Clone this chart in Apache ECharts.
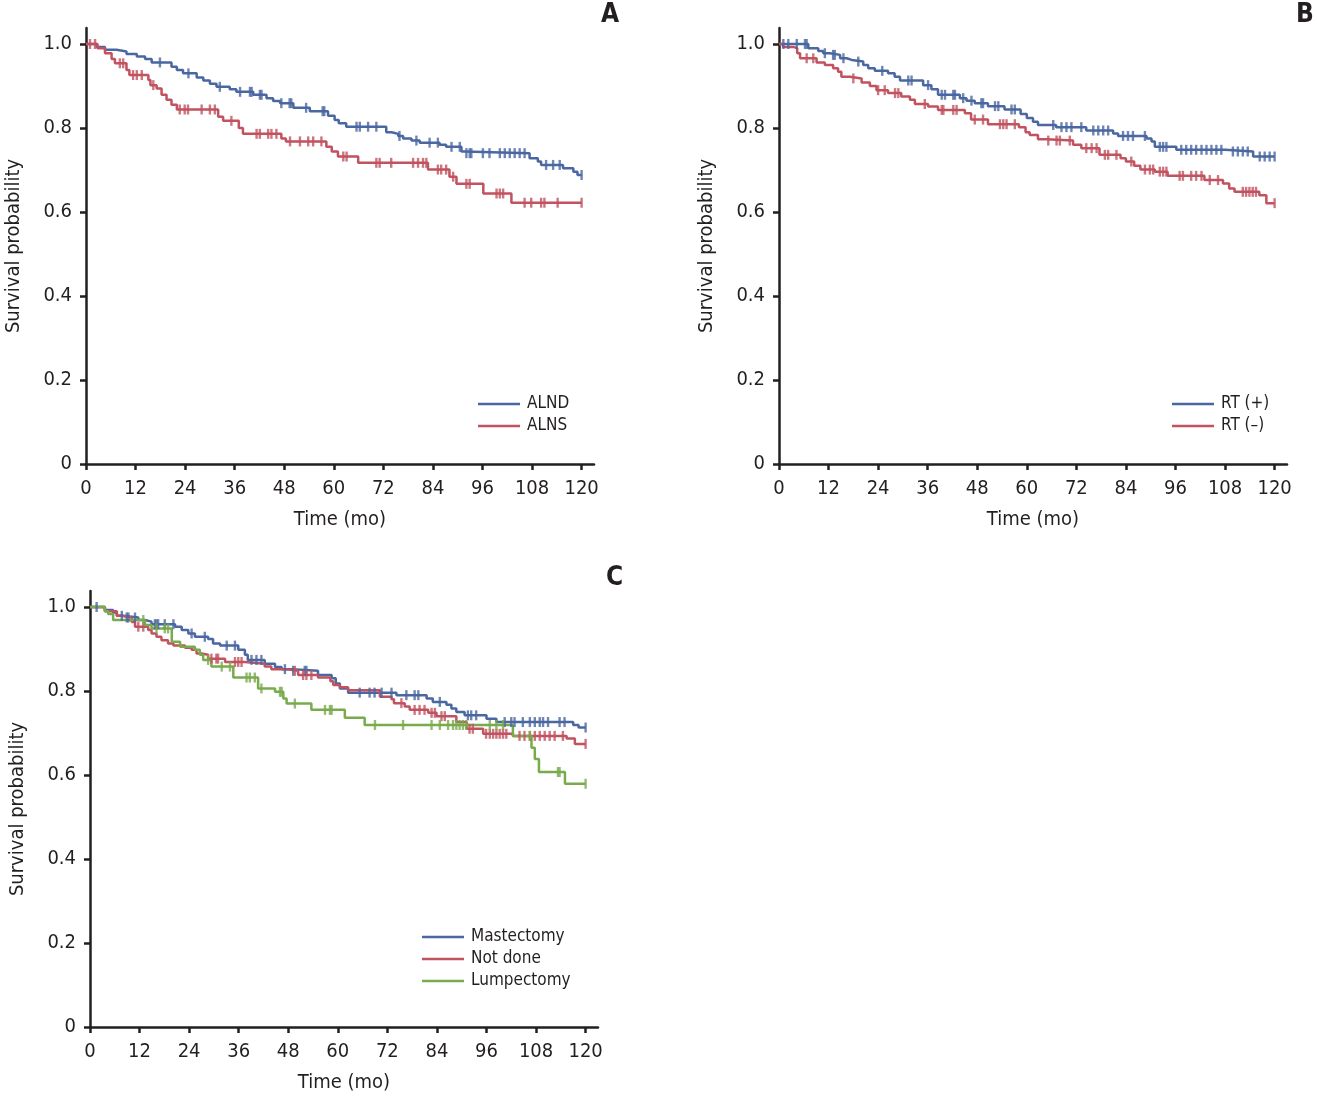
<!DOCTYPE html>
<html>
<head>
<meta charset="utf-8">
<title>Survival curves</title>
<script src="https://cdn.jsdelivr.net/npm/echarts@6/dist/echarts.min.js"></script>
<style>
  html, body { margin: 0; padding: 0; background: #fff; }
  #chart { width: 1317px; height: 1100px; }
</style>
</head>
<body>
<div id="chart"></div>
<script>
// tick labels
var xTicks = [0, 12, 24, 36, 48, 60, 72, 84, 96, 108, 120];
var yTicks = [0, 0.2, 0.4, 0.6, 0.8, 1.0];

// A: ALND
var alndTime = [2.6, 4.6, 7.4, 9.8, 12.3, 14.3, 15.9, 20.7, 22.0, 23.5, 26.8, 28.4, 30.0, 31.6, 34.8, 36.4, 40.5, 43.7, 45.3, 47.0, 50.2, 54.2, 58.6, 60.2, 61.2, 63.0, 72.7, 74.0, 75.6, 76.8, 78.8, 80.8, 85.6, 87.2, 90.9, 91.5, 107.4, 109.4, 110.2, 115.5, 118.0, 119.0];
var alndSurv = [0.993, 0.986, 0.982, 0.976, 0.970, 0.964, 0.956, 0.946, 0.938, 0.930, 0.920, 0.913, 0.905, 0.898, 0.892, 0.886, 0.879, 0.871, 0.864, 0.859, 0.848, 0.840, 0.829, 0.819, 0.811, 0.803, 0.790, 0.786, 0.781, 0.775, 0.770, 0.765, 0.760, 0.755, 0.744, 0.740, 0.728, 0.720, 0.712, 0.704, 0.696, 0.688];
var alndCensor = [17.9, 24.8, 32.4, 37.3, 39.7, 40.1, 42.1, 42.5, 47.3, 49.3, 49.7, 53.3, 57.3, 57.7, 65.5, 66.3, 68.3, 70.3, 75.9, 80.0, 83.2, 85.2, 88.5, 90.5, 92.1, 92.9, 93.3, 96.1, 97.7, 100.2, 101.4, 102.6, 103.8, 105.0, 106.2, 111.4, 113.1, 114.7, 120];

// A: ALNS
var alnsTime = [2.8, 4.6, 6.2, 7.0, 9.8, 10.5, 15.1, 15.6, 17.1, 18.3, 19.5, 20.7, 22.0, 32.0, 33.2, 37.0, 38.0, 47.3, 48.4, 58.2, 59.5, 61.0, 65.9, 82.8, 88.0, 89.7, 96.2, 103.0];
var alnsSurv = [0.990, 0.978, 0.964, 0.954, 0.938, 0.926, 0.914, 0.902, 0.894, 0.879, 0.867, 0.855, 0.844, 0.827, 0.817, 0.800, 0.786, 0.775, 0.768, 0.755, 0.744, 0.732, 0.717, 0.701, 0.684, 0.667, 0.644, 0.622];
var alnsCensor = [0.97, 2.2, 8.2, 9.0, 11.4, 12.3, 13.5, 16.3, 22.7, 23.9, 24.7, 28.0, 30.0, 31.2, 35.2, 41.3, 42.1, 44.1, 44.9, 46.1, 49.4, 51.8, 53.8, 55.0, 57.0, 62.3, 63.1, 70.3, 71.1, 73.9, 79.2, 80.4, 81.6, 82.4, 85.2, 86.0, 87.2, 88.9, 92.1, 92.9, 99.4, 100.2, 101.0, 106.2, 107.8, 110.2, 111.0, 114.2, 120];

// B: RT (+)
var rtPosTime = [7.1, 9.5, 10.7, 12.3, 14.8, 16.4, 17.6, 20.4, 21.6, 23.2, 26.4, 28.0, 29.3, 34.9, 36.9, 38.5, 43.8, 45.4, 47.4, 50.6, 54.6, 58.5, 60.0, 61.5, 62.7, 67.1, 74.4, 80.9, 82.1, 89.0, 90.2, 91.0, 96.2, 108.0, 114.8];
var rtPosSurv = [0.990, 0.983, 0.978, 0.974, 0.966, 0.962, 0.958, 0.950, 0.942, 0.936, 0.930, 0.922, 0.913, 0.902, 0.892, 0.879, 0.871, 0.865, 0.859, 0.852, 0.844, 0.833, 0.824, 0.815, 0.807, 0.802, 0.794, 0.787, 0.781, 0.775, 0.768, 0.755, 0.748, 0.744, 0.732];
var rtPosCensor = [1.05, 2.25, 4.3, 6.3, 6.7, 11.1, 13.1, 13.5, 15.6, 19.2, 25.0, 31.3, 32.1, 36.1, 39.4, 40.2, 42.2, 42.6, 44.6, 46.6, 49.0, 49.4, 52.3, 53.1, 56.3, 57.1, 66.4, 68.4, 69.6, 70.8, 73.2, 76.1, 77.3, 78.5, 79.7, 83.3, 84.5, 85.7, 88.6, 92.2, 93.0, 93.8, 97.4, 98.6, 99.8, 101.0, 102.3, 103.5, 104.7, 105.9, 107.1, 109.9, 111.1, 112.3, 113.5, 116.4, 117.6, 118.8, 120];

// B: RT (-)
var rtNegTime = [1.0, 3.4, 4.4, 5.1, 9.1, 11.1, 13.1, 14.3, 15.1, 17.2, 20.0, 22.0, 23.6, 26.4, 29.6, 31.7, 32.9, 36.1, 38.5, 45.0, 46.5, 50.6, 58.1, 59.7, 60.7, 62.7, 64.7, 71.2, 73.2, 77.6, 82.7, 84.0, 86.0, 87.5, 91.0, 94.1, 103.0, 107.5, 109.0, 110.3, 116.3, 118.0];
var rtNegSurv = [0.993, 0.990, 0.978, 0.966, 0.956, 0.950, 0.942, 0.934, 0.922, 0.918, 0.908, 0.900, 0.890, 0.883, 0.875, 0.867, 0.857, 0.851, 0.843, 0.835, 0.820, 0.809, 0.802, 0.790, 0.783, 0.773, 0.770, 0.760, 0.752, 0.736, 0.728, 0.720, 0.710, 0.701, 0.696, 0.686, 0.676, 0.668, 0.656, 0.648, 0.640, 0.621];
var rtNegCensor = [6.7, 8.3, 18.0, 24.0, 25.6, 28.1, 28.9, 35.3, 39.4, 39.8, 42.2, 43.0, 47.4, 49.4, 53.5, 54.3, 55.1, 57.1, 65.2, 67.2, 68.0, 70.4, 74.4, 75.7, 76.9, 78.9, 79.7, 81.7, 85.3, 88.6, 89.8, 90.6, 92.2, 93.0, 93.8, 97.0, 97.8, 99.8, 101.0, 102.3, 104.3, 106.3, 112.3, 113.1, 113.9, 114.7, 115.5, 120];

// C: Mastectomy
var mastTime = [3.6, 5.6, 6.5, 8.0, 11.7, 13.3, 14.9, 20.6, 22.2, 23.8, 25.4, 28.6, 29.8, 31.5, 35.9, 37.5, 38.2, 42.3, 44.8, 46.4, 48.8, 55.2, 58.5, 59.5, 60.5, 62.5, 74.2, 81.5, 83.0, 86.3, 87.5, 88.7, 90.7, 96.0, 98.4, 117.0, 118.3];
var mastSurv = [0.993, 0.987, 0.979, 0.975, 0.969, 0.965, 0.959, 0.953, 0.945, 0.937, 0.929, 0.924, 0.913, 0.908, 0.898, 0.886, 0.874, 0.865, 0.857, 0.852, 0.848, 0.838, 0.830, 0.818, 0.806, 0.796, 0.790, 0.782, 0.774, 0.767, 0.758, 0.750, 0.742, 0.734, 0.726, 0.719, 0.713];
var mastCensor = [1.6, 7.7, 8.9, 9.3, 10.9, 15.7, 16.1, 16.5, 18.1, 20.2, 24.6, 27.8, 33.1, 35.1, 39.1, 40.3, 41.5, 47.2, 49.2, 52.0, 52.4, 65.3, 67.7, 68.9, 70.6, 73.0, 76.6, 78.6, 79.5, 84.7, 91.5, 92.3, 93.5, 100.4, 102.0, 102.8, 104.8, 106.5, 107.7, 108.9, 109.7, 110.9, 113.7, 114.9, 120];

// C: Not done
var notDoneTime = [3.6, 6.5, 7.7, 10.1, 10.9, 14.1, 14.9, 16.1, 17.3, 18.9, 20.2, 23.0, 24.6, 25.8, 27.0, 28.6, 32.7, 37.5, 42.3, 43.9, 47.2, 50.4, 55.2, 58.2, 58.9, 60.5, 62.5, 70.2, 73.0, 73.6, 76.2, 77.4, 81.9, 83.9, 88.7, 91.2, 95.2, 102.4, 115.4, 117.4];
var notDoneSurv = [0.990, 0.979, 0.975, 0.964, 0.953, 0.945, 0.937, 0.929, 0.921, 0.913, 0.908, 0.903, 0.898, 0.889, 0.886, 0.877, 0.869, 0.865, 0.858, 0.852, 0.848, 0.838, 0.832, 0.823, 0.814, 0.809, 0.802, 0.786, 0.780, 0.771, 0.763, 0.755, 0.748, 0.740, 0.726, 0.710, 0.698, 0.693, 0.687, 0.674];
var notDoneCensor = [11.7, 12.9, 29.4, 30.6, 31.0, 35.1, 35.9, 36.7, 49.6, 51.6, 52.4, 53.6, 75.4, 78.6, 79.8, 81.0, 82.7, 83.5, 85.1, 85.9, 91.9, 92.7, 95.9, 96.8, 97.6, 98.4, 99.2, 100.0, 100.8, 104.0, 105.2, 106.5, 107.7, 108.9, 110.1, 111.3, 112.5, 114.5, 120];

// C: Lumpectomy
var lumpTime = [3.6, 4.4, 5.6, 13.3, 14.9, 19.8, 21.8, 25.4, 26.6, 27.4, 29.4, 34.7, 40.7, 44.8, 46.8, 47.6, 53.6, 61.7, 66.5, 102.4, 106.9, 107.7, 108.7, 115.0];
var lumpSurv = [0.990, 0.983, 0.969, 0.957, 0.949, 0.917, 0.905, 0.898, 0.886, 0.874, 0.858, 0.832, 0.806, 0.798, 0.782, 0.770, 0.755, 0.736, 0.719, 0.693, 0.665, 0.638, 0.607, 0.579];
var lumpCensor = [12.9, 16.1, 18.1, 18.9, 28.6, 31.9, 33.9, 37.9, 38.7, 39.9, 41.5, 46.0, 46.4, 49.6, 56.9, 58.1, 58.5, 69.0, 75.8, 82.7, 84.7, 86.7, 87.9, 88.7, 89.5, 90.3, 91.1, 96.8, 98.4, 100.0, 106.5, 113.3, 113.7, 120];

var BLUE = '#4a67a1';
var RED = '#c1525f';
var GREEN = '#79aa4c';
var INK = '#231f20';
var FONT = '"Liberation Sans Narrow", "DejaVu Sans Condensed", "Roboto Condensed", "Arial Narrow", sans-serif';

function kmLine(times, surv) {
    var d = [[0, 1]];
    for (var i = 0; i < times.length; i++) d.push([times[i], surv[i]]);
    d.push([120, surv[surv.length - 1]]);
    return d;
}
function survAt(times, surv, t) {
    var s = 1;
    for (var i = 0; i < times.length; i++) if (times[i] <= t) s = surv[i];
    return s;
}
function censorPts(times, surv, cens) {
    return cens.map(function (c) { return [c, survAt(times, surv, c)]; });
}

function curve(name, gi, color, times, surv, cens) {
    return [{
        name: name, type: 'line', step: 'end',
        xAxisIndex: gi, yAxisIndex: gi,
        data: kmLine(times, surv), showSymbol: false, symbol: 'none',
        lineStyle: { color: color, width: 2.5 }, itemStyle: { color: color },
        z: 3
    }, {
        name: name + '_c', type: 'scatter',
        xAxisIndex: gi, yAxisIndex: gi,
        data: censorPts(times, surv, cens),
        symbol: 'rect', symbolSize: [2.4, 10],
        itemStyle: { color: color }, z: 4
    }];
}

function xAxisFor(gi) {
    return {
        type: 'value', gridIndex: gi, min: 0, max: 123,
        name: 'Time (mo)', nameLocation: 'middle', nameGap: 46,
        nameTextStyle: { fontFamily: FONT, fontSize: 20, color: INK },
        axisLine: { show: true, onZero: false, lineStyle: { color: INK, width: 2.5 } },
        axisTick: { show: true, length: 6, customValues: xTicks, lineStyle: { color: INK, width: 2.5 } },
        axisLabel: { customValues: xTicks, fontFamily: FONT, fontSize: 20, color: INK, margin: 15 },
        splitLine: { show: false }
    };
}
function yAxisFor(gi) {
    return {
        type: 'value', gridIndex: gi, min: 0, max: 1.038,
        name: 'Survival probability', nameLocation: 'middle', nameGap: 62, nameRotate: 90,
        nameTextStyle: { fontFamily: FONT, fontSize: 20, color: INK },
        axisLine: { show: true, onZero: false, lineStyle: { color: INK, width: 2.5 } },
        axisTick: { show: true, length: 6, customValues: yTicks, lineStyle: { color: INK, width: 2.5 } },
        axisLabel: {
            customValues: yTicks, fontFamily: FONT, fontSize: 20, color: INK, margin: 14,
            formatter: function (v) { return v === 0 ? '0' : v.toFixed(1); }
        },
        splitLine: { show: false }
    };
}
function legendFor(names, left, top) {
    return {
        orient: 'vertical', left: left, top: top, data: names,
        icon: 'rect', itemWidth: 42, itemHeight: 2.5, itemGap: 2,
        textStyle: { fontFamily: FONT, fontSize: 17, color: INK, lineHeight: 20, padding: [0, 0, 0, 2] }
    };
}
function letter(t, left, top) {
    return { text: t, left: left, top: top, padding: 0,
        textStyle: { fontFamily: FONT, fontSize: 26, fontWeight: 'bold', color: INK } };
}

var series = [].concat(
    curve('ALND', 0, BLUE, alndTime, alndSurv, alndCensor),
    curve('ALNS', 0, RED, alnsTime, alnsSurv, alnsCensor),
    curve('RT (+)', 1, BLUE, rtPosTime, rtPosSurv, rtPosCensor),
    curve('RT (–)', 1, RED, rtNegTime, rtNegSurv, rtNegCensor),
    curve('Mastectomy', 2, BLUE, mastTime, mastSurv, mastCensor),
    curve('Not done', 2, RED, notDoneTime, notDoneSurv, notDoneCensor),
    curve('Lumpectomy', 2, GREEN, lumpTime, lumpSurv, lumpCensor)
);

var chart = echarts.init(document.getElementById('chart'));
chart.setOption({
    animation: false,
    backgroundColor: '#fff',
    title: [letter('A', 601, 2), letter('B', 1296, 2), letter('C', 606, 565)],
    grid: [
        { left: 86, top: 28, width: 508, height: 436 },
        { left: 779, top: 28, width: 508, height: 436 },
        { left: 90, top: 591, width: 508, height: 436 }
    ],
    xAxis: [xAxisFor(0), xAxisFor(1), xAxisFor(2)],
    yAxis: [yAxisFor(0), yAxisFor(1), yAxisFor(2)],
    legend: [
        legendFor(['ALND', 'ALNS'], 473, 389),
        legendFor(['RT (+)', 'RT (–)'], 1167, 389),
        legendFor(['Mastectomy', 'Not done', 'Lumpectomy'], 417, 922)
    ],
    series: series
});
</script>
</body>
</html>
